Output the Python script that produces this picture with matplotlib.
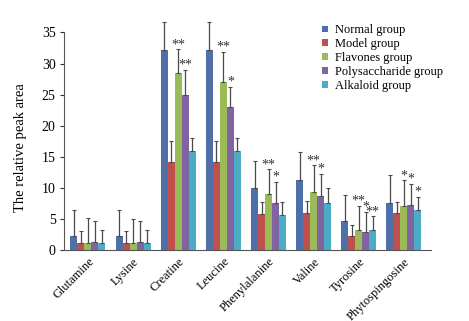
import numpy as np
import matplotlib.pyplot as plt

plt.rcParams['font.family'] = ['Liberation Serif', 'DejaVu Serif']

# metabolites on the x axis
metabolites = ["Glutamine", "Lysine", "Creatine", "Leucine",
               "Phenylalanine", "Valine", "Tyrosine", "Phytospingosine"]
groups = ["Normal group", "Model group", "Flavones group",
          "Polysaccharide group", "Alkaloid group"]
colors = ["#4F6FA8", "#C0504D", "#9BBB59", "#8064A2", "#4BACC6"]

# mean relative peak areas
normal = [2.2, 2.2, 32.2, 32.2, 10.0, 11.3, 4.6, 7.5]
model = [1.2, 1.2, 14.2, 14.2, 5.8, 6.0, 2.2, 5.9]
flavones = [1.2, 1.1, 28.5, 27.0, 9.0, 9.4, 3.3, 7.1]
polysaccharide = [1.3, 1.3, 25.0, 23.0, 7.5, 8.7, 2.9, 7.3]
alkaloid = [1.2, 1.2, 16.0, 16.0, 5.6, 7.5, 3.3, 6.5]

# upper error (SD)
normal_sd = [4.3, 4.3, 4.5, 4.5, 4.4, 4.4, 4.3, 4.6]
model_sd = [1.9, 1.9, 3.3, 3.3, 1.9, 1.9, 1.9, 1.9]
flavones_sd = [3.9, 3.9, 3.8, 4.9, 4.0, 4.2, 3.8, 4.1]
polysaccharide_sd = [3.4, 3.3, 4.0, 3.3, 3.5, 3.6, 3.3, 3.4]
alkaloid_sd = [2.1, 2.1, 2.1, 2.1, 2.1, 2.4, 2.1, 2.1]

# significance marks per group (index into metabolites)
stars = {
    2: {2: "**", 3: "**"},
    3: {2: "**", 3: "*"},
    4: {2: "**", 3: "*"},
    5: {2: "**", 3: "*"},
    6: {2: "**", 3: "*", 4: "**"},
    7: {2: "*", 3: "*", 4: "*"},
}

values = [normal, model, flavones, polysaccharide, alkaloid]
errors = [normal_sd, model_sd, flavones_sd, polysaccharide_sd, alkaloid_sd]

fig = plt.figure(figsize=(4.69, 3.21), dpi=100)
ax = fig.add_axes([0.1365, 0.221, 0.7825, 0.678])

x = np.arange(len(metabolites))
w = 0.155
for i, (vals, errs) in enumerate(zip(values, errors)):
    pos = x + (i - 2) * w
    ax.bar(pos, vals, width=w, color=colors[i], label=groups[i], zorder=2)
    eb = ax.errorbar(pos, vals, yerr=[np.zeros(len(vals)), errs], fmt='none',
                     ecolor='#4a4a4a', elinewidth=0.9, capsize=1.5,
                     capthick=0.8, zorder=3)
    for art in eb.lines[1] + eb.lines[2]:
        art.set_clip_on(False)

for m, marks in stars.items():
    for g, s in marks.items():
        top = values[g][m] + errors[g][m]
        ax.text(x[m] + (g - 2) * w, top - 0.3, s, ha='center', va='bottom',
                fontsize=10, color='#333333')

ax.set_xlim(-0.53, 7.6)
ax.set_ylim(0, 35)
ax.set_yticks(range(0, 36, 5))
ax.set_xticks(x)
ax.set_xticklabels(metabolites, rotation=45, ha='right', rotation_mode='anchor',
                   fontsize=9)
ax.tick_params(axis='x', length=0, pad=4)
ax.tick_params(axis='y', labelsize=10, length=3, width=0.8, colors='#333333',
               labelcolor='black', pad=3)
ax.spines['top'].set_visible(False)
ax.spines['right'].set_visible(False)
ax.spines['left'].set_color('#555555')
ax.spines['bottom'].set_color('#555555')
ax.set_ylabel("The relative peak area", fontsize=10.5)
ax.yaxis.set_label_coords(-0.1, 0.47)

ax.legend(loc='upper left', bbox_to_anchor=(0.69, 1.06), frameon=False,
          fontsize=9, handlelength=0.45, handleheight=0.45,
          handletextpad=0.55, labelspacing=0.15, borderaxespad=0)

fig.savefig("out.png", dpi=100)
